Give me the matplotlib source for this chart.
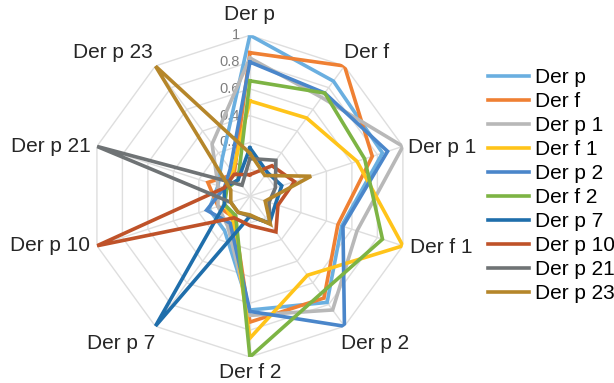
import numpy as np
import matplotlib.pyplot as plt

plt.rcParams['font.family'] = ['Liberation Sans', 'DejaVu Sans']

# categories (axes of the radar) and series names
categories = ['Der p', 'Der f', 'Der p 1', 'Der f 1', 'Der p 2',
              'Der f 2', 'Der p 7', 'Der p 10', 'Der p 21', 'Der p 23']
series_names = ['Der p', 'Der f', 'Der p 1', 'Der f 1', 'Der p 2',
                'Der f 2', 'Der p 7', 'Der p 10', 'Der p 21', 'Der p 23']

# values (axis runs from -0.2 at the centre to 1)
der_p = [1.00, 0.86, 0.84, 0.52, 0.78, 0.65, 0.12, 0.12, 0.05, 0.15]
der_f = [0.87, 1.00, 0.76, 0.49, 0.74, 0.74, 0.00, 0.05, 0.13, 0.00]
der_p1 = [0.83, 0.71, 1.00, 0.64, 0.85, 0.69, 0.08, 0.05, 0.05, 0.28]
der_f1 = [0.51, 0.52, 0.64, 1.00, 0.53, 0.86, 0.02, 0.00, 0.00, 0.02]
der_p2 = [0.80, 0.75, 0.88, 0.53, 1.00, 0.66, 0.05, 0.14, 0.00, 0.05]
der_f2 = [0.66, 0.75, 0.70, 0.84, 0.70, 1.00, -0.02, 0.00, -0.02, -0.05]
der_p7 = [0.16, 0.02, 0.05, 0.00, 0.05, -0.05, 1.00, 0.00, 0.00, -0.05]
der_p10 = [-0.04, 0.08, 0.15, 0.02, 0.13, 0.02, 0.00, 1.00, 0.00, 0.00]
der_p21 = [0.08, 0.13, 0.00, -0.05, 0.05, -0.05, -0.05, -0.05, 1.00, -0.10]
der_p23 = [0.12, -0.01, 0.28, -0.08, 0.06, -0.06, -0.05, -0.05, -0.05, 1.00]

all_series = [der_p, der_f, der_p1, der_f1, der_p2, der_f2,
              der_p7, der_p10, der_p21, der_p23]
colors = ['#6AAFE0', '#EF8033', '#B8B8B8', '#FFC41A', '#4A86CA',
          '#7DB444', '#1F6EAB', '#BF5229', '#6F7375', '#B5862A']

ring_values = [0, 0.2, 0.4, 0.6, 0.8, 1.0]
ring_labels = ['0', '0.2', '0.4', '0.6', '0.8', '1']

n = len(categories)
theta = np.arange(n) * 2 * np.pi / n
theta_closed = np.append(theta, theta[0])

fig = plt.figure(figsize=(6.14, 3.83), dpi=100)
ax = fig.add_axes([0.145, 0.068, 0.524, 0.840], projection='polar')
ax.set_theta_zero_location('N')
ax.set_theta_direction(-1)
ax.set_ylim(-0.2, 1.0)
ax.grid(False)
ax.spines['polar'].set_visible(False)
ax.set_xticks([])
ax.set_yticks([])

# polygon grid like Excel
for v in ring_values:
    ax.plot(theta_closed, [v] * (n + 1), color='#DEDEDE', lw=1, zorder=0)
for t in theta:
    ax.plot([t, t], [-0.2, 1.0], color='#DEDEDE', lw=1, zorder=0)

# radial value labels along the first axis
for v, lab in zip(ring_values, ring_labels):
    ax.annotate(lab, xy=(0, v), xytext=(-10, 0), textcoords='offset pixels',
                ha='right', va='center', fontsize=10.5, color='#7F7F7F', zorder=1)

# series
for vals, name, c in zip(all_series, series_names, colors):
    ax.plot(theta_closed, vals + [vals[0]], color=c, lw=2.6,
            label=name, solid_joinstyle='miter', zorder=2)

# category labels
label_pos = [((0, 21), 'center'), ((0, 13), 'left'), ((5, -1), 'left'),
             ((7, -2), 'left'), ((-3, -17), 'left'), ((0, -16), 'center'),
             ((0, -17), 'right'), ((-7, 0), 'right'), ((-6, 0), 'right'),
             ((-3, 13), 'right')]
for t, cat, (off, ha) in zip(theta, categories, label_pos):
    ax.annotate(cat, xy=(t, 1.0), xytext=off, textcoords='offset pixels',
                ha=ha, va='center', fontsize=15, color='#262626')

fig.legend(loc='upper left', bbox_to_anchor=(0.795, 0.822), frameon=False,
           fontsize=15, handlelength=1.95, handletextpad=0.3,
           labelspacing=0.24, borderpad=0, borderaxespad=0)

fig.savefig('out.png', dpi=100)
